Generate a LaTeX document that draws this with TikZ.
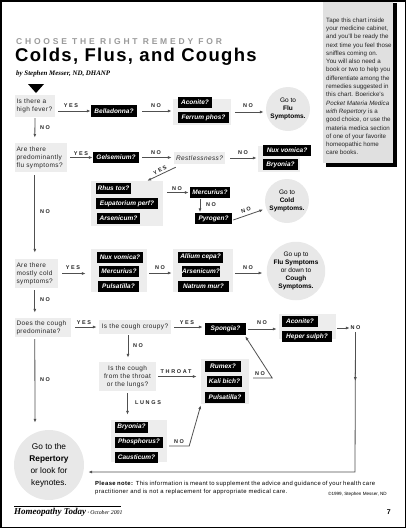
\documentclass[tikz,border=0pt]{standalone}
\usepackage{fontspec}
\setmainfont{Liberation Sans}
\newfontfamily\serif{Liberation Serif}
\newfontfamily\lblf{Liberation Sans}[LetterSpace=30]
\newfontfamily\titlef{Liberation Sans}[LetterSpace=33]
\newfontfamily\bigf{Liberation Sans}[LetterSpace=7]
\newfontfamily\qf{Liberation Sans}[LetterSpace=6]
\usetikzlibrary{calc,arrows.meta}
\definecolor{boxgray}{HTML}{EDEDED}
\definecolor{circgray}{HTML}{E8E8E8}
\definecolor{linegray}{HTML}{505050}
\definecolor{titlegray}{HTML}{9A9A9A}
\definecolor{sidegray}{HTML}{E0E0E0}
\tikzset{
 qbox/.style={fill=boxgray, inner xsep=1.5pt, inner ysep=0pt, font=\qf\fontsize{6.5}{8}\selectfont, text=black!85, align=left},
 grp/.style={fill=boxgray, inner sep=0pt},
 rem/.style={fill=black, text=white, inner sep=0pt, font=\fontsize{6.5}{8}\selectfont\bfseries\itshape},
 circ/.style={circle, fill=circgray, inner sep=0pt, align=center, font=\fontsize{6.5}{8}\selectfont},
 lbl/.style={font=\lblf\fontsize{5.5}{6}\selectfont\bfseries, inner sep=0pt, text=black!85},
 arr/.style={draw=linegray, line width=0.8pt, -{Latex[length=4pt,width=3pt]}},
}
\begin{document}
\begin{tikzpicture}[x=1pt,y=-1pt]
\useasboundingbox (0,0) rectangle (409,528);
\draw[line width=1.5pt] (0.75,0.75) rectangle (405.5,527.25);
% sidebar
\fill[black] (326,3) rectangle (396.5,166.5);
\fill[sidegray] (323,1.5) rectangle (393,163);
\node[anchor=north west, inner sep=0pt, align=left, font=\fontsize{6.2}{8.3}\selectfont, text=black!85] (side) at (326,17.5)
 {Tape this chart inside\\your medicine cabinet,\\and you'll be ready the\\next time you feel those\\sniffles coming on.\\You will also need a\\book or two to help you\\differentiate among the\\remedies suggested in\\this chart. Boericke's\\\textit{Pocket Materia Medica}\\\textit{with Repertory} is a\\good choice, or use the\\materia medica section\\of one of your favorite\\homeopathic home\\care books.};
% titles
\node[anchor=base west, inner sep=0pt, font=\titlef\fontsize{8.5}{10}\selectfont\bfseries, text=titlegray] (kicker) at (16,44.5) {CHOOSE THE RIGHT REMEDY FOR};
\node[anchor=base west, inner sep=0pt, font=\bigf\fontsize{18.5}{20}\selectfont\bfseries] (title) at (15,61) {Colds, Flus, and Coughs};
\node[anchor=base west, inner sep=0pt, font=\serif\fontsize{6.9}{8}\selectfont\bfseries\itshape] (by) at (16,75) {by Stephen Messer, ND, DHANP};
% start triangle
\fill (28,84) -- (44,84) -- (36,93) -- cycle;
% groups
\node[grp, minimum width=58, minimum height=26] (g1) at (202,112) {};
\node[grp, minimum width=42, minimum height=26] (g2) at (279,159) {};
\node[grp, minimum width=72, minimum height=45] (g3) at (127,203.5) {};
\node[grp, minimum width=56, minimum height=43] (g4) at (119,270.5) {};
\node[grp, minimum width=60, minimum height=43] (g5) at (203,270.5) {};
\node[grp, minimum width=57, minimum height=25] (g6) at (307.5,326.5) {};
\node[grp, minimum width=48, minimum height=45] (g7) at (225,381.5) {};
\node[grp, minimum width=56, minimum height=42] (g8) at (139,441) {};
% questions
\node[qbox, minimum height=22, text width=37] (q1) at (35,106) {Is there a\\high fever?};
\node[qbox, minimum height=29, text width=49] (q2) at (41,157.5) {Are there\\predominantly\\flu symptoms?};
\node[qbox, minimum height=29, text width=40] (q3) at (36.5,273.5) {Are there\\mostly cold\\symptoms?};
\node[qbox, minimum height=19, text width=53] (q4) at (43,327.5) {Does the cough\\predominate?};
\node[qbox, minimum height=14, text width=69, align=center] (croupy) at (135,327) {Is the cough croupy?};
\node[qbox, minimum height=29, text width=54, align=center] (tl) at (127.5,376.5) {Is the cough\\from the throat\\or the lungs?};
\node[qbox, minimum height=12, text width=48, align=center, font=\qf\fontsize{6.5}{8}\selectfont\itshape] (restl) at (199.5,158) {Restlessness?};
% remedies
\node[rem, minimum width=46, minimum height=12] (bell) at (114,111) {Belladonna?};
\node[rem, minimum width=34, minimum height=11] (acon1) at (195,102.5) {Aconite?};
\node[rem, minimum width=51, minimum height=11] (ferrum) at (203.5,117.5) {Ferrum phos?};
\node[rem, minimum width=46, minimum height=11] (gels) at (116,157.5) {Gelsemium?};
\node[rem, minimum width=48, minimum height=11] (nux1) at (287,150.5) {Nux vomica?};
\node[rem, minimum width=35, minimum height=11] (bry1) at (280.5,164.5) {Bryonia?};
\node[rem, minimum width=35, minimum height=11] (rhus) at (113.5,188.5) {Rhus tox?};
\node[rem, minimum width=62, minimum height=11] (eup) at (127,203.5) {Eupatorium perf?};
\node[rem, minimum width=43, minimum height=11] (ars1) at (118.5,218.5) {Arsenicum?};
\node[rem, minimum width=40, minimum height=11] (merc1) at (210,192.5) {Mercurius?};
\node[rem, minimum width=37, minimum height=11] (pyro) at (213.5,218.5) {Pyrogen?};
\node[rem, minimum width=46, minimum height=11] (nux2) at (120,257) {Nux vomica?};
\node[rem, minimum width=40, minimum height=11] (merc2) at (119,271) {Mercurius?};
\node[rem, minimum width=41, minimum height=11] (puls1) at (118.5,286) {Pulsatilla?};
\node[rem, minimum width=45, minimum height=11] (allium) at (200.5,257) {Allium cepa?};
\node[rem, minimum width=38, minimum height=11] (ars2) at (201,271.5) {Arsenicum?};
\node[rem, minimum width=51, minimum height=11] (natrum) at (203.5,286) {Natrum mur?};
\node[rem, minimum width=41, minimum height=12] (spongia) at (225.5,329) {Spongia?};
\node[rem, minimum width=36, minimum height=11] (acon2) at (300,321.5) {Aconite?};
\node[rem, minimum width=50, minimum height=11] (heper) at (307,336.5) {Heper sulph?};
\node[rem, minimum width=36, minimum height=11] (rumex) at (223,366) {Rumex?};
\node[rem, minimum width=35, minimum height=11] (kali) at (224.5,381) {Kali bich?};
\node[rem, minimum width=40, minimum height=11] (puls2) at (225,397) {Pulsatilla?};
\node[rem, minimum width=33, minimum height=11] (bry2) at (131.5,427) {Bryonia?};
\node[rem, minimum width=48, minimum height=11] (phos) at (139,442) {Phosphorus?};
\node[rem, minimum width=43, minimum height=11] (caust) at (136.5,457.5) {Causticum?};
% circles
\node[circ, minimum size=44] (flu) at (288,109) {Go to\\\textbf{Flu}\\\textbf{Symptoms.}};
\node[circ, minimum size=44] (cold) at (287,201) {Go to\\\textbf{Cold}\\\textbf{Symptoms.}};
\node[circ, minimum size=58] (c3) at (296,271) {Go up to\\\textbf{Flu Symptoms}\\or down to\\\textbf{Cough}\\\textbf{Symptoms.}};
\node[circ, minimum size=70, font=\fontsize{8.3}{12}\selectfont] (rep) at (49,465) {Go to the\\\textbf{Repertory}\\or look for\\keynotes.};
% labels
\node[lbl] (l1) at (71,106) {YES};
\node[lbl] (l2) at (156,106) {NO};
\node[lbl] (l3) at (248,106) {NO};
\node[lbl] (l4) at (45,128) {NO};
\node[lbl] (l5) at (81,153.5) {YES};
\node[lbl] (l6) at (156,153) {NO};
\node[lbl] (l7) at (243,153) {NO};
\node[lbl, rotate=28] (l8) at (160,170) {YES};
\node[lbl] (l9) at (177,189) {NO};
\node[lbl] (l10) at (211,205) {NO};
\node[lbl, rotate=17] (l11) at (246,210) {NO};
\node[lbl] (l12) at (45,212) {NO};
\node[lbl] (l13) at (73,268) {YES};
\node[lbl] (l14) at (160,268) {NO};
\node[lbl] (l15) at (248,268) {NO};
\node[lbl] (l16) at (45,300) {NO};
\node[lbl] (l17) at (84,323) {YES};
\node[lbl] (l18) at (187,323) {YES};
\node[lbl] (l19) at (262,323) {NO};
\node[lbl] (no6) at (355.5,328) {NO};
\node[lbl] (l20) at (138,346) {NO};
\node[lbl] (l21) at (176,371.5) {THROAT};
\node[lbl] (l22) at (260,374) {NO};
\node[lbl] (l23) at (148,403) {LUNGS};
\node[lbl] (l24) at (179,442) {NO};
\node[lbl] (l25) at (45,380) {NO};
% connectors
\draw[arr, shorten <=3] (q1.east |- bell.west) -- (bell.west);
\draw[arr, shorten <=5, shorten >=1] (bell.east) -- (bell.east -| g1.west);
\draw[arr, shorten <=4, shorten >=2] (g1.east) -- (g1.east -| flu.west);
\draw[arr, shorten <=1] (q1.south) -- ($(q2.north west)+(20,-5)$);
\draw[arr, shorten <=3] (q2.east |- gels.west) -- (gels.west);
\draw[arr, shorten <=3, shorten >=2] (gels.east) -- (gels.east -| restl.west);
\draw[arr, shorten <=5, shorten >=1] (restl.east) -- (restl.east -| g2.west);
\draw[arr] ($(restl.south west)+(2,3)$) -- ($(g3.north east)+(-16,0)$);
\draw[arr, shorten <=4, shorten >=1] (g3.east |- merc1.west) -- (merc1.west);
\draw[arr] ($(merc1.south)+(-10,0.5)$) -- ($(pyro.north)+(-13.5,-0.5)$);
\draw[arr, shorten >=3] ($(pyro.east)+(1,1.5)$) -- (cold.200);
\draw[arr] ($(q2.south west)+(20,3)$) -- ($(q3.north west)+(20,-6)$);
\draw[arr, shorten <=4, shorten >=5] (q3.east) -- (q3.east -| g4.west);
\draw[arr] ($(g4.east)+(2,2.5)$) -- ($(g5.west)+(-1,2.5)$);
\draw[arr] ($(g5.east)+(2,2.5)$) -- ($(c3.west)+(-4,2)$);
\draw[arr] ($(q3.south west)+(20,2)$) -- ($(q4.north west)+(20,-5)$);
\draw[arr, shorten <=4, shorten >=2] (q4.east |- croupy.west) -- (croupy.west);
\draw[arr, shorten <=3, shorten >=2] (croupy.east) -- (croupy.east -| spongia.west);
\draw[arr, shorten <=2, shorten >=2] (spongia.east) -- (spongia.east -| g6.west);
\draw[arr, shorten >=0.5] ($(g6.east)+(1,1.5)$) -- (no6.west);
\coordinate (turn) at (355,472);
\draw[arr] ($(no6.south)+(0,2)$) -- ($(no6.south)!0.36!(turn)$);
\draw[arr, shorten >=4] ($(no6.south)!0.3!(turn)$) -- (turn) -- (turn -| rep.east);
\draw[arr, shorten <=1, shorten >=4] ($(croupy.south)+(-7,0)$) -- ($(tl.north)+(0.5,0)$);
\draw[arr, shorten <=2, shorten >=4] (tl.east) -- (tl.east -| g7.west);
\draw[arr] ($(g7.east)+(4,-3.5)$) -- ++(19,0) -- ($(spongia.south east)+(-1,1)$);
\draw[arr, shorten <=2, shorten >=5] (tl.south) -- (tl.south |- g8.north);
\draw[arr] ($(g8.east)+(2,5)$) -- ++(20,0) -- ($(g7.south west)+(0,1)$);
\draw[arr] ($(q4.south west)+(20,2)$) -- ($(rep.north)+(-14,-7)$);
% note and footer
\node[anchor=north west, inner sep=0pt, align=left, font=\qf\fontsize{5.9}{8}\selectfont] (note) at (95,481.5) {\makebox[280pt][s]{\textbf{Please note:} This information is meant to supplement the advice and guidance of your health care}\\practitioner and is not a replacement for appropriate medical care.};
\node[anchor=base east, inner sep=0pt, font=\fontsize{4.6}{5}\selectfont] (copy) at (387,495) {\textcopyright1999, Stephen Messer, ND};
\draw[line width=0.8pt] (14,506) -- (121,506);
\node[anchor=base west, inner sep=0pt, font=\serif] (foot) at (14,514) {{\fontsize{9}{10}\selectfont\bfseries\itshape Homeopathy Today}{\fontsize{5.8}{6}\selectfont\itshape\ {\bfseries\textperiodcentered} October 2001}};
\node[anchor=base east, inner sep=0pt, font=\fontsize{7}{8}\selectfont\bfseries] (pg) at (391,514) {7};
\end{tikzpicture}
\end{document}
